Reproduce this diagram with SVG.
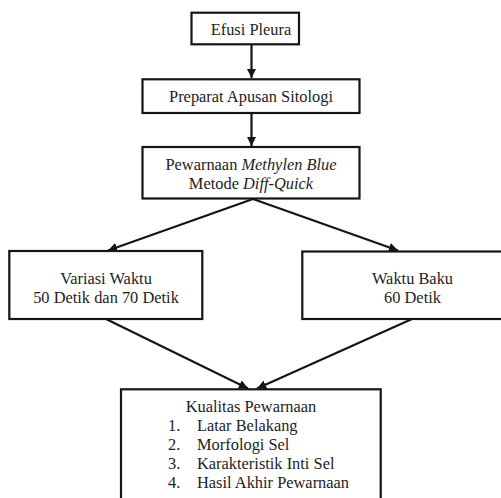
<svg xmlns="http://www.w3.org/2000/svg" width="501" height="498" viewBox="0 0 501 498">
<defs>
<style>
.box{fill:#fff;stroke:#151515;stroke-width:2.2}
.t{font-size:16.4px;fill:#1e1e1e}
.c{text-anchor:middle}
.i{font-style:italic}
.ln{stroke:#151515;stroke-width:2.2;fill:none}
</style>
<marker id="ah" viewBox="0 0 10 10" refX="10" refY="5" markerWidth="4.2" markerHeight="4.2" orient="auto" markerUnits="strokeWidth">
<path d="M0,0 L10,5 L0,10 Z" fill="#151515"/>
</marker>
</defs>
<rect width="501" height="498" fill="#fff"/>
<g id="connectors">
<line class="ln" x1="251.5" y1="44" x2="251.5" y2="78" marker-end="url(#ah)"/>
<line class="ln" x1="251.5" y1="113" x2="251.5" y2="146" marker-end="url(#ah)"/>
<line class="ln" x1="253" y1="199" x2="108" y2="250.5" marker-end="url(#ah)"/>
<line class="ln" x1="253" y1="199" x2="398" y2="250.5" marker-end="url(#ah)"/>
<line class="ln" x1="106" y1="319" x2="248" y2="388.5" marker-end="url(#ah)"/>
<line class="ln" x1="412" y1="319" x2="257" y2="388.5" marker-end="url(#ah)"/>
</g>
<g font-family="Liberation Serif, Times New Roman, serif">
<g id="efusi">
<rect class="box" x="191.5" y="12.7" width="107.5" height="31.6"/>
<text class="t c" x="251" y="35">Efusi Pleura</text>
</g>
<g id="preparat">
<rect class="box" x="142.5" y="79.3" width="217" height="33.7"/>
<text class="t c" x="251" y="102">Preparat Apusan Sitologi</text>
</g>
<g id="pewarnaan">
<rect class="box" x="142.5" y="147" width="217" height="51.5"/>
<text class="t c" x="251" y="170">Pewarnaan <tspan class="i">Methylen Blue</tspan></text>
<text class="t c" x="251" y="188.5">Metode <tspan class="i">Diff-Quick</tspan></text>
</g>
<g id="variasi">
<rect class="box" x="9.3" y="251" width="193" height="68"/>
<text class="t c" x="106" y="284">Variasi Waktu</text>
<text class="t c" x="106" y="302.7">50 Detik dan 70 Detik</text>
</g>
<g id="baku">
<rect class="box" x="302.3" y="251.5" width="225" height="67.5"/>
<text class="t c" x="412.5" y="284">Waktu Baku</text>
<text class="t c" x="412.5" y="302.7">60 Detik</text>
</g>
<g id="kualitas">
<rect class="box" x="121" y="389.3" width="259.7" height="120"/>
<text class="t c" x="251" y="411.7">Kualitas Pewarnaan</text>
<text class="t" x="168" y="431.2">1.</text><text class="t" x="197" y="431.2">Latar Belakang</text>
<text class="t" x="168" y="450.2">2.</text><text class="t" x="197" y="450.2">Morfologi Sel</text>
<text class="t" x="168" y="469.2">3.</text><text class="t" x="197" y="469.2">Karakteristik Inti Sel</text>
<text class="t" x="168" y="488.2">4.</text><text class="t" x="197" y="488.2">Hasil Akhir Pewarnaan</text>
</g>
</g>
</svg>
